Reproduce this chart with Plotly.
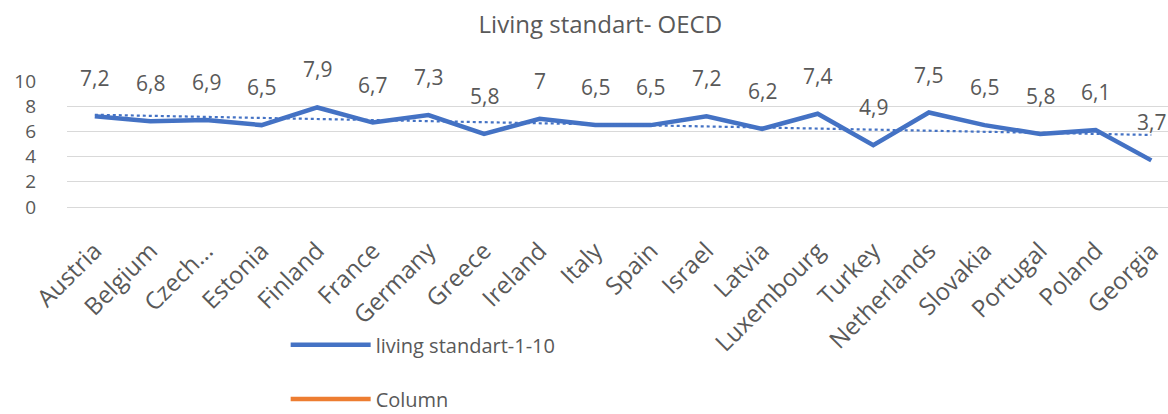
import numpy as np
import plotly.graph_objects as go

countries = ["Austria", "Belgium", "Czech...", "Estonia", "Finland", "France", "Germany",
             "Greece", "Ireland", "Italy", "Spain", "Israel", "Latvia", "Luxembourg",
             "Turkey", "Netherlands", "Slovakia", "Portugal", "Poland", "Georgia"]
living_standard = [7.2, 6.8, 6.9, 6.5, 7.9, 6.7, 7.3, 5.8, 7.0, 6.5,
                   6.5, 7.2, 6.2, 7.4, 4.9, 7.5, 6.5, 5.8, 6.1, 3.7]
value_labels = ["7,2", "6,8", "6,9", "6,5", "7,9", "6,7", "7,3", "5,8", "7", "6,5",
                "6,5", "7,2", "6,2", "7,4", "4,9", "7,5", "6,5", "5,8", "6,1", "3,7"]
y_ticks = [0, 2, 4, 6, 8, 10]

FONT = "Open Sans"
GREY = "#595959"
BLUE = "#4472C4"
ORANGE = "#ED7D31"

idx = np.arange(len(countries))
slope, intercept = np.polyfit(idx, living_standard, 1)
trend = slope * idx + intercept

fig = go.Figure()
fig.add_trace(go.Scatter(
    x=countries, y=living_standard, mode="lines", name="living standart-1-10",
    line=dict(color=BLUE, width=4.5), legend="legend"))
fig.add_trace(go.Scatter(
    x=countries, y=trend, mode="lines", showlegend=False,
    line=dict(color=BLUE, width=2.2, dash="dot"), hoverinfo="skip"))
fig.add_trace(go.Scatter(
    x=countries, y=[None] * len(countries), mode="lines", name="Column",
    line=dict(color=ORANGE, width=4.5), legend="legend2"))

for c, v, t in zip(countries, living_standard, value_labels):
    fig.add_annotation(x=c, y=v, text=t, showarrow=False, yshift=38,
                       font=dict(family=FONT, size=21, color=GREY))

legend_common = dict(orientation="v", xanchor="left", yanchor="middle", yref="container",
                     font=dict(family=FONT, size=20, color=GREY),
                     itemwidth=80, bgcolor="rgba(0,0,0,0)")

fig.update_layout(
    width=1168, height=414,
    margin=dict(l=67, r=0, t=81, b=207, autoexpand=False),
    paper_bgcolor="white", plot_bgcolor="white",
    title=dict(text="Living standart- OECD", x=0.514, xanchor="center", y=0.94, yanchor="middle",
               font=dict(family=FONT, size=24, color=GREY)),
    font=dict(family=FONT, color=GREY),
    showlegend=True,
    legend=dict(x=0.1986, y=0.167, **legend_common),
    legend2=dict(x=0.1986, y=0.036, **legend_common),
    xaxis=dict(type="category", range=[-0.5, 19.3], tickangle=-45,
               tickfont=dict(family=FONT, size=24, color=GREY), ticklabelstandoff=24,
               showgrid=False, showline=False, zeroline=False, ticks=""),
    yaxis=dict(range=[0, 10], tickvals=y_ticks, tickfont=dict(family=FONT, size=19, color=GREY),
               ticklabelstandoff=30,
               showgrid=True, gridcolor="#D9D9D9", gridwidth=1, zeroline=True,
               zerolinecolor="#D9D9D9", zerolinewidth=1, showline=False, ticks=""),
)

fig.write_html("out.html")
